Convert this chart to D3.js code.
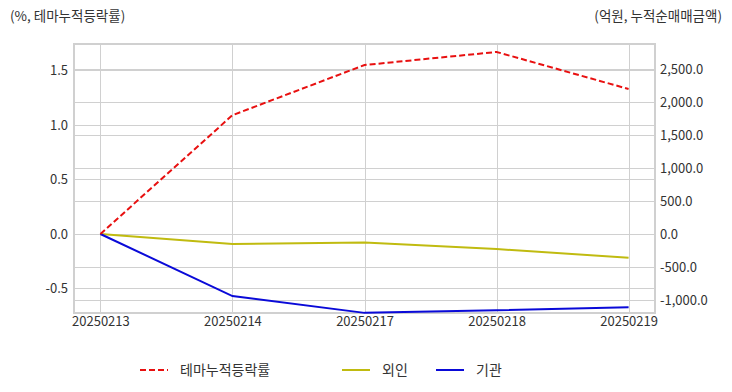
<!DOCTYPE html>
<html>
    <head>
        <meta charset="utf-8">
        <title>테마 누적등락률</title>
        <script src="https://cdnjs.cloudflare.com/ajax/libs/d3/7.8.5/d3.min.js"></script>
        <style>
            body { margin: 0; background: #fff; }
            text { font-family: "Noto Sans CJK KR", "Noto Sans", sans-serif; fill: #333; }
        </style>
    </head>
    <body>
        <script type="text/javascript">

            // data
            var dates = ["20250213", "20250214", "20250217", "20250218", "20250219"];
            var themeRate = [0, 1.09, 1.55, 1.67, 1.33];
            var foreign = [0, -150, -130, -227, -360];
            var institution = [0, -940, -1195, -1156, -1110];

            var leftTicks = [-0.5, 0, 0.5, 1.0, 1.5];
            var rightTicks = [-1000, -500, 0, 500, 1000, 1500, 2000, 2500];

            var width = 732;
            var height = 392;
            var plot = {left: 74, right: 655, top: 44, bottom: 313};

            var svg = d3.select("body")
                        .append("svg")
                        .attr("width", width)
                        .attr("height", height);

            var x = d3.scalePoint()
                      .domain(dates)
                      .range([plot.left, plot.right])
                      .padding(0.2);

            var yLeft = d3.scaleLinear()
                          .domain([-0.725, 1.743])
                          .range([plot.bottom, plot.top]);

            var yRight = d3.scaleLinear()
                           .domain([-1197, 2879])
                           .range([plot.bottom, plot.top]);

            // grid lines
            var grid = svg.append("g").attr("stroke", "#d0d0d0").attr("stroke-width", 1);
            leftTicks.forEach(function(t) {
                grid.append("line")
                    .attr("x1", plot.left).attr("x2", plot.right)
                    .attr("y1", Math.round(yLeft(t)) + 0.5).attr("y2", Math.round(yLeft(t)) + 0.5);
            });
            rightTicks.forEach(function(t) {
                grid.append("line")
                    .attr("x1", plot.left).attr("x2", plot.right)
                    .attr("y1", Math.round(yRight(t)) + 0.5).attr("y2", Math.round(yRight(t)) + 0.5);
            });
            dates.forEach(function(d) {
                grid.append("line")
                    .attr("x1", Math.round(x(d)) + 0.5).attr("x2", Math.round(x(d)) + 0.5)
                    .attr("y1", plot.top).attr("y2", plot.bottom);
            });

            // plot border
            svg.append("rect")
               .attr("x", plot.left).attr("y", plot.top)
               .attr("width", plot.right - plot.left)
               .attr("height", plot.bottom - plot.top)
               .attr("fill", "none")
               .attr("stroke", "#d0d0d0")
               .attr("stroke-width", 2);

            // axes
            var leftAxis = svg.append("g")
                              .attr("transform", "translate(" + plot.left + ",0)")
                              .call(d3.axisLeft(yLeft).tickValues(leftTicks).tickSize(0).tickPadding(6));
            var rightAxis = svg.append("g")
                               .attr("transform", "translate(" + plot.right + ",0)")
                               .call(d3.axisRight(yRight).tickValues(rightTicks).tickSize(0).tickPadding(5));
            var bottomAxis = svg.append("g")
                                .attr("transform", "translate(0," + plot.bottom + ")")
                                .call(d3.axisBottom(x).tickSize(0).tickPadding(4));

            [leftAxis, rightAxis, bottomAxis].forEach(function(a) {
                a.select(".domain").remove();
                a.selectAll("text").style("font-size", "13px").attr("fill", "#333");
            });
            leftAxis.selectAll("text").text(function(d) { return d3.format(".1f")(d).replace("−", "-"); });
            rightAxis.selectAll("text").text(function(d) { return d3.format(",.1f")(d).replace("−", "-"); });

            // lines
            var lineLeft = d3.line()
                             .x(function(d, i) { return x(dates[i]); })
                             .y(function(d) { return yLeft(d); });
            var lineRight = d3.line()
                              .x(function(d, i) { return x(dates[i]); })
                              .y(function(d) { return yRight(d); });

            svg.append("path").datum(foreign)
               .attr("d", lineRight).attr("fill", "none")
               .attr("stroke", "#c0bb10").attr("stroke-width", 2);
            svg.append("path").datum(institution)
               .attr("d", lineRight).attr("fill", "none")
               .attr("stroke", "#0a0ad8").attr("stroke-width", 2);
            svg.append("path").datum(themeRate)
               .attr("d", lineLeft).attr("fill", "none")
               .attr("stroke", "#e81010").attr("stroke-width", 2)
               .attr("stroke-dasharray", "6,3");

            // axis titles
            svg.append("text").attr("x", 10).attr("y", 21)
               .style("font-size", "13.5px").text("(%, 테마누적등락률)");
            svg.append("text").attr("x", 722).attr("y", 21)
               .attr("text-anchor", "end")
               .style("font-size", "13.5px").text("(억원, 누적순매매금액)");

            // legend
            var legend = [
                {name: "테마누적등락률", color: "#e81010", dash: "6,3", x: 140},
                {name: "외인", color: "#c0bb10", dash: null, x: 342},
                {name: "기관", color: "#0a0ad8", dash: null, x: 436}
            ];
            legend.forEach(function(l) {
                svg.append("line")
                   .attr("x1", l.x).attr("x2", l.x + 28)
                   .attr("y1", 370).attr("y2", 370)
                   .attr("stroke", l.color).attr("stroke-width", 2)
                   .attr("stroke-dasharray", l.dash);
                svg.append("text")
                   .attr("x", l.x + 40).attr("y", 375)
                   .style("font-size", "14px").text(l.name);
            });

        </script>
    </body>
</html>
